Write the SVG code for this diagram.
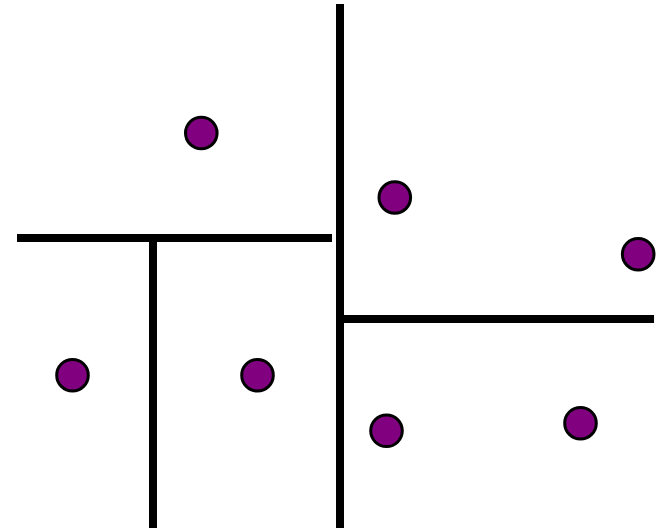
<svg xmlns="http://www.w3.org/2000/svg" width="659" height="530" viewBox="0 0 659 530">
<style>
.line{stroke:#000;stroke-width:8;fill:none}
.pt{fill:#800080;stroke:#000;stroke-width:3}
</style>
<rect width="659" height="530" fill="#fff"/>
<g id="connectors">
<line class="line" x1="340" y1="4" x2="340" y2="528"/>
<line class="line" x1="17" y1="238" x2="332" y2="238"/>
<line class="line" x1="153" y1="238" x2="153" y2="528"/>
<line class="line" x1="344" y1="319" x2="654" y2="319"/>
</g>
<g id="p1"><circle class="pt" cx="201.3" cy="133" r="15.8"/></g>
<g id="p2"><circle class="pt" cx="394.8" cy="197.5" r="15.8"/></g>
<g id="p3"><circle class="pt" cx="638.2" cy="254.2" r="15.8"/></g>
<g id="p4"><circle class="pt" cx="72.5" cy="375.2" r="15.8"/></g>
<g id="p5"><circle class="pt" cx="257.5" cy="375.2" r="15.8"/></g>
<g id="p6"><circle class="pt" cx="386.5" cy="430.8" r="15.8"/></g>
<g id="p7"><circle class="pt" cx="580.5" cy="423.2" r="15.8"/></g>
</svg>
